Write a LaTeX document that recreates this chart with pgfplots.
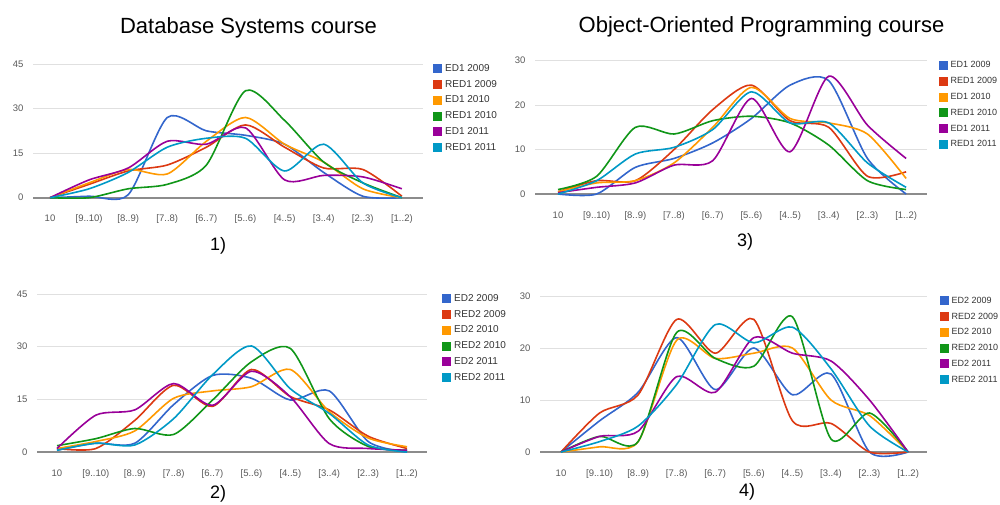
\documentclass[border=0pt]{standalone}
\usepackage{pgfplots}
\pgfplotsset{compat=1.18}
\usepackage{fontspec}
\setmainfont{Liberation Sans}

\definecolor{s1}{HTML}{3366CC}
\definecolor{s2}{HTML}{DC3912}
\definecolor{s3}{HTML}{FF9900}
\definecolor{s4}{HTML}{109618}
\definecolor{s5}{HTML}{990099}
\definecolor{s6}{HTML}{0099C6}

\pgfplotsset{
  gchart/.style={
    scale only axis, clip=false,
    axis line style={draw=none},
    major tick length=0pt,
    xtick={0,...,9},
    xticklabels={10,{[9..10)},{[8..9)},{[7..8)},{[6..7)},{[5..6)},{[4..5)},{[3..4)},{[2..3)},{[1..2)}},
    ymin=0,
    ymajorgrids,
    grid style={draw=black!12, line width=1pt},
    extra y ticks={0}, extra y tick labels={},
    extra y tick style={grid style={draw=black!45, line width=1.6pt}},
    tick label style={font=\fontsize{9.5}{11}\selectfont, text=black!65},
    yticklabel style={xshift=-6pt},
    xticklabel style={anchor=base, yshift=-24pt},
    /pgf/number format/assume math mode=true,
    every axis plot/.append style={smooth, tension=0.45, line width=1.6pt, mark=none},
    legend cell align=left,
    legend style={draw=none, fill=none, anchor=north west, inner sep=0pt,
      font=\fontsize{10}{12}\selectfont, text=black!80, row sep=6.8pt, column sep=3pt,
      nodes={inner sep=0pt, text height=7pt, text depth=2pt}},
    legend image code/.code={\path[#1, draw=none, fill] (0pt,-4.5pt) rectangle (9pt,4.5pt);},
  },
  % legends at the right page edge are set a little tighter so they fit
  edgelegend/.style={legend style={font=\fontsize{9}{11}\selectfont, column sep=2.5pt}},
}

\begin{document}
\begin{tikzpicture}
\path[use as bounding box] (0,0) rectangle (1000pt,504pt);

% Titles and panel numbers
\node[anchor=base, font=\fontsize{22}{26}\selectfont] at (248.5pt,470pt) {Database Systems course};
\node[anchor=base, font=\fontsize{22}{26}\selectfont] at (761.5pt,471pt) {Object-Oriented Programming course};
\node[anchor=base, font=\fontsize{18}{20}\selectfont] at (218pt,254pt) {1)};
\node[anchor=base, font=\fontsize{18}{20}\selectfont] at (745pt,258pt) {3)};
\node[anchor=base, font=\fontsize{18}{20}\selectfont] at (218pt,6pt) {2)};
\node[anchor=base, font=\fontsize{18}{20}\selectfont] at (747pt,8pt) {4)};

% 1) Database Systems, ED1/RED1
\begin{axis}[gchart, at={(33pt,306.3pt)}, anchor=south west,
  width=390pt, height=133.7pt, xmin=-0.435, xmax=9.54, ymax=45, ytick={0,15,30,45},
  legend style={at={(axis description cs:1,1)}, xshift=10pt}]
\addplot[color=s1] coordinates {(0,0) (1,0.5) (2,1) (3,27) (4,22.5) (5,21) (6,18) (7,8.5) (8,0.5) (9,0)};
\addplot[color=s2] coordinates {(0,0) (1,4.5) (2,9) (3,11) (4,17) (5,24.5) (6,17) (7,10) (8,9.5) (9,0.5)};
\addplot[color=s3] coordinates {(0,0) (1,5) (2,9.5) (3,8) (4,19) (5,27) (6,18) (7,12) (8,3) (9,0)};
\addplot[color=s4] coordinates {(0,0) (1,0) (2,3) (3,4.5) (4,11) (5,36) (6,26) (7,12) (8,5) (9,0)};
\addplot[color=s5] coordinates {(0,0) (1,6) (2,10) (3,19) (4,18) (5,23.5) (6,6) (7,7.5) (8,7) (9,3)};
\addplot[color=s6] coordinates {(0,0) (1,3) (2,8.5) (3,17) (4,20) (5,20) (6,9) (7,18) (8,5) (9,0)};
\legend{ED1 2009, RED1 2009, ED1 2010, RED1 2010, ED1 2011, RED1 2011}
\end{axis}

% 2) Database Systems, ED2/RED2
\begin{axis}[gchart, at={(37pt,52pt)}, anchor=south west,
  width=390pt, height=158pt, xmin=-0.514, xmax=9.514, ymax=45, ytick={0,15,30,45},
  legend style={at={(axis description cs:1,1)}, xshift=15pt}]
\addplot[color=s1] coordinates {(0,0.5) (1,2.5) (2,2.5) (3,13.5) (4,21.8) (5,21) (6,14.8) (7,17.4) (8,3) (9,0)};
\addplot[color=s2] coordinates {(0,1) (1,1) (2,9) (3,19) (4,13) (5,23.5) (6,15.8) (7,12) (8,4.5) (9,1)};
\addplot[color=s3] coordinates {(0,1) (1,3) (2,6) (3,15.3) (4,17.4) (5,18.6) (6,23.5) (7,11.5) (8,4) (9,1.5)};
\addplot[color=s4] coordinates {(0,1.8) (1,3.8) (2,6.7) (3,5) (4,14.8) (5,25.7) (6,29.5) (7,9.5) (8,1.6) (9,0.5)};
\addplot[color=s5] coordinates {(0,1) (1,10.5) (2,12) (3,19.5) (4,13.3) (5,23) (6,15.7) (7,2.4) (8,1) (9,0.5)};
\addplot[color=s6] coordinates {(0,0.5) (1,2.5) (2,2) (3,9.5) (4,22) (5,30.2) (6,18) (7,11) (8,2) (9,0)};
\legend{ED2 2009, RED2 2009, ED2 2010, RED2 2010, ED2 2011, RED2 2011}
\end{axis}

% 3) Object-Oriented Programming, ED1/RED1
\begin{axis}[gchart, edgelegend, at={(535pt,310pt)}, anchor=south west,
  width=392pt, height=133.3pt, xmin=-0.595, xmax=9.54, ymax=30, ytick={0,10,20,30},
  legend style={at={(axis description cs:1,1)}, xshift=12pt}]
\addplot[color=s1] coordinates {(0,0) (1,0) (2,6) (3,8) (4,11.5) (5,17) (6,24.5) (7,25.5) (8,8) (9,0)};
\addplot[color=s2] coordinates {(0,0.5) (1,3) (2,3) (3,10) (4,19) (5,24.5) (6,16.5) (7,15) (8,4) (9,5)};
\addplot[color=s3] coordinates {(0,0.5) (1,2.5) (2,3) (3,7) (4,15) (5,24) (6,17) (7,16) (8,13.5) (9,3.5)};
\addplot[color=s4] coordinates {(0,1) (1,4) (2,15) (3,13.5) (4,16.5) (5,17.5) (6,16) (7,11) (8,3) (9,1)};
\addplot[color=s5] coordinates {(0,0.3) (1,1.5) (2,2.5) (3,6.5) (4,7.5) (5,21.5) (6,9.5) (7,26.5) (8,15.5) (9,8)};
\addplot[color=s6] coordinates {(0,0) (1,3) (2,9) (3,10.5) (4,14.5) (5,23) (6,16) (7,16) (8,7) (9,1.5)};
\legend{ED1 2009, RED1 2009, ED1 2010, RED1 2010, ED1 2011, RED1 2011}
\end{axis}

% 4) Object-Oriented Programming, ED2/RED2
\begin{axis}[gchart, edgelegend, at={(540pt,52pt)}, anchor=south west,
  width=387pt, height=156pt, xmin=-0.545, xmax=9.49, ymax=30, ytick={0,10,20,30},
  legend style={at={(axis description cs:1,1)}, xshift=13pt}]
\addplot[color=s1] coordinates {(0,0) (1,6) (2,11.5) (3,22) (4,12) (5,20) (6,11) (7,15) (8,0) (9,0)};
\addplot[color=s2] coordinates {(0,0) (1,7.5) (2,11) (3,25.5) (4,19) (5,25.5) (6,6) (7,5.5) (8,0) (9,0)};
\addplot[color=s3] coordinates {(0,0) (1,1) (2,2) (3,21.5) (4,18) (5,19) (6,20) (7,10) (8,7) (9,0)};
\addplot[color=s4] coordinates {(0,0) (1,3) (2,2) (3,23) (4,18) (5,16.5) (6,26) (7,2.5) (8,7.5) (9,0)};
\addplot[color=s5] coordinates {(0,0) (1,3) (2,4) (3,14.5) (4,11.5) (5,22) (6,19) (7,17.5) (8,10) (9,0)};
\addplot[color=s6] coordinates {(0,0) (1,2) (2,5) (3,13) (4,24.5) (5,21) (6,24) (7,16) (8,5) (9,0)};
\legend{ED2 2009, RED2 2009, ED2 2010, RED2 2010, ED2 2011, RED2 2011}
\end{axis}
\end{tikzpicture}
\end{document}
